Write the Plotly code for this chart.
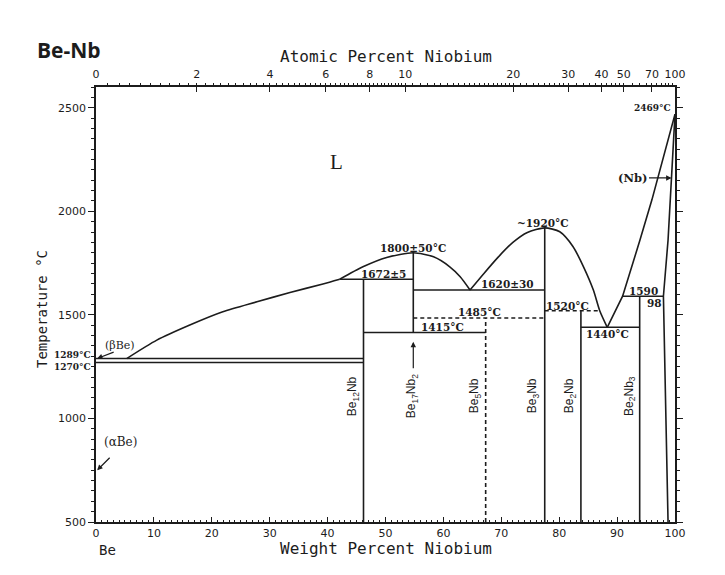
import plotly.graph_objects as go

# ---------------- data ----------------
M_BE, M_NB = 9.012, 92.906

# compound compositions (wt% Nb)
COMP_NAMES = ["Be<sub>12</sub>Nb", "Be<sub>17</sub>Nb<sub>2</sub>", "Be<sub>5</sub>Nb",
              "Be<sub>3</sub>Nb", "Be<sub>2</sub>Nb", "Be<sub>2</sub>Nb<sub>3</sub>"]
COMP_WT = [46.2, 54.8, 67.3, 77.5, 83.75, 93.9]
BE12NB, BE17NB2, BE5NB, BE3NB, BE2NB, BE2NB3 = COMP_WT

# liquidus branches
liq1_x = [5.3, 10.5, 16.2, 21.9, 27.8, 33.5, 39.2, 42.1]
liq1_t = [1289, 1378, 1451, 1515, 1563, 1608, 1649, 1672]
liq2_x = [42.1, 46.1, 50.2, 54.8, 58.3, 61.1, 62.9, 64.6]
liq2_t = [1672, 1732, 1777, 1800, 1780, 1732, 1684, 1620]
liq3_x = [64.6, 67.0, 69.5, 72.0, 74.5, 77.5, 80.1, 82.4, 84.2, 85.9, 87.0, 88.3]
liq3_t = [1620, 1700, 1780, 1850, 1898, 1920, 1901, 1829, 1732, 1620, 1520, 1440]
liq4_x = [88.3, 90.95, 93.95, 96.0, 100.0]
liq4_t = [1440, 1590, 1861, 2054, 2469]
# (Nb) solidus / solvus
sol_x = [98.8, 98.0, 98.8, 100.0]
sol_t = [500, 1590, 1861, 2469]

# invariant lines (solid)
solid_seg_x = [[0, BE12NB], [0, BE12NB], [BE12NB, BE12NB], [42.1, BE17NB2],
               [BE17NB2, BE17NB2], [BE12NB, BE5NB], [BE17NB2, BE3NB],
               [BE3NB, BE3NB], [BE2NB, BE2NB], [BE2NB, BE2NB3],
               [BE2NB3, BE2NB3], [90.95, 98.0]]
solid_seg_t = [[1289, 1289], [1270, 1270], [500, 1672], [1672, 1672],
               [1415, 1800], [1415, 1415], [1620, 1620],
               [500, 1920], [500, 1520], [1440, 1440],
               [500, 1590], [1590, 1590]]
# dashed lines
dash_seg_x = [[BE5NB, BE5NB], [BE17NB2, BE3NB], [BE3NB, 87.0]]
dash_seg_t = [[500, 1485], [1485, 1485], [1520, 1520]]

# axis ticks
wt_ticks = list(range(0, 101, 10))
at_ticks = [0, 2, 4, 6, 8, 10, 20, 30, 40, 50, 70, 100]
t_ticks = [500, 1000, 1500, 2000, 2500]


def at_to_wt(a):
    return 100.0 * a * M_NB / (a * M_NB + (100.0 - a) * M_BE)


at_minor = ([i * 0.2 for i in range(0, 51)] + [10 + i * 0.5 for i in range(1, 21)]
            + list(range(21, 31)) + list(range(32, 51, 2)) + list(range(55, 101, 5)))

INK = "#1c1c1c"
LW = 1.6


def join(seg_x, seg_t):
    xs, ts = [], []
    for sx, st in zip(seg_x, seg_t):
        xs += sx + [None]
        ts += st + [None]
    return xs, ts


fig = go.Figure()
for xs, ts in [(liq1_x, liq1_t), (liq2_x, liq2_t), (liq3_x, liq3_t)]:
    fig.add_trace(go.Scatter(x=xs, y=ts, mode="lines",
                             line=dict(color=INK, width=LW, shape="spline", smoothing=0.7),
                             hoverinfo="skip", showlegend=False))
fig.add_trace(go.Scatter(x=liq4_x, y=liq4_t, mode="lines",
                         line=dict(color=INK, width=LW), hoverinfo="skip", showlegend=False))
fig.add_trace(go.Scatter(x=sol_x, y=sol_t, mode="lines",
                         line=dict(color=INK, width=LW), hoverinfo="skip", showlegend=False))
sx, st = join(solid_seg_x, solid_seg_t)
fig.add_trace(go.Scatter(x=sx, y=st, mode="lines", line=dict(color=INK, width=LW),
                         hoverinfo="skip", showlegend=False))
dx, dt = join(dash_seg_x, dash_seg_t)
fig.add_trace(go.Scatter(x=dx, y=dt, mode="lines",
                         line=dict(color=INK, width=LW, dash="4px,3px"),
                         hoverinfo="skip", showlegend=False))
# invisible trace to anchor the top (atomic %) axis
fig.add_trace(go.Scatter(x=[0, 100], y=[500, 500], xaxis="x2", mode="lines",
                         line=dict(width=0), hoverinfo="skip", showlegend=False))

tickfont = dict(family="DejaVu Sans", size=11, color=INK)
fig.update_layout(
    width=725, height=575,
    margin=dict(l=96, r=50, t=87, b=53),
    paper_bgcolor="white", plot_bgcolor="white",
    xaxis=dict(range=[0, 100], tickmode="array", tickvals=wt_ticks,
               ticks="inside", ticklen=5, tickwidth=1, tickcolor=INK,
               minor=dict(dtick=1, ticks="inside", ticklen=2.5, tickcolor=INK),
               showline=True, linecolor=INK, linewidth=1.5, mirror=False,
               showgrid=False, zeroline=False, tickfont=tickfont, ticklabelstandoff=0),
    xaxis2=dict(range=[0, 100], overlaying="x", side="top", anchor="y",
                tickmode="array", tickvals=[at_to_wt(a) for a in at_ticks],
                ticktext=[str(a) for a in at_ticks],
                ticks="inside", ticklen=5, tickwidth=1, tickcolor=INK,
                minor=dict(tickvals=[at_to_wt(a) for a in at_minor], ticks="outside",
                           ticklen=2, tickcolor=INK),
                showline=True, linecolor=INK, linewidth=1.5,
                showgrid=False, zeroline=False, tickfont=tickfont, ticklabelstandoff=3),
    yaxis=dict(range=[500, 2600], tickmode="array", tickvals=t_ticks,
               ticks="outside", ticklen=6, tickwidth=1, tickcolor=INK,
               minor=dict(dtick=50, ticks="outside", ticklen=3, tickcolor=INK),
               showline=True, linecolor=INK, linewidth=1.5, mirror="ticks",
               showgrid=False, zeroline=False, tickfont=tickfont),
)

ann = []
SERIF = "DejaVu Serif"


def txt(x, y, s, size=10, family=SERIF, xanchor="center", yanchor="middle",
        angle=0, xref="x", yref="y", bold=False, xshift=0, yshift=0):
    ann.append(dict(x=x, y=y, xref=xref, yref=yref, text=(f"<b>{s}</b>" if bold else s),
                    showarrow=False, xanchor=xanchor, yanchor=yanchor, textangle=angle,
                    xshift=xshift, yshift=yshift,
                    font=dict(family=family, size=size, color=INK)))


# titles
txt(-0.105, 1.085, "Be-Nb", size=21, family="Open Sans", xanchor="left", xref="paper",
    yref="paper", bold=True)
txt(0.5, 1.069, "Atomic Percent Niobium", size=16, family="DejaVu Sans Mono",
    xref="paper", yref="paper")
txt(0.5, -0.062, "Weight Percent Niobium", size=16, family="DejaVu Sans Mono",
    xref="paper", yref="paper")
txt(-0.093, 0.49, "Temperature °C", size=14, family="DejaVu Sans Mono",
    xref="paper", yref="paper", angle=-90)
txt(2.0, -0.064, "Be", size=14, family="DejaVu Sans Mono", yref="paper")
txt(101.8, -0.064, "Nb", size=14, family="DejaVu Sans Mono", yref="paper")

# phase / temperature labels
txt(41.6, 2238, "L", size=21, family="Liberation Serif")
txt(0, 1289, "1289°C", size=9, xanchor="right", bold=True, xshift=-3, yshift=4)
txt(0, 1270, "1270°C", size=9, xanchor="right", bold=True, xshift=-3, yshift=-4)
txt(99.6, 2500, "2469°C", size=9, xanchor="right", bold=True)
txt(54.7, 1823, "1800±50°C", size=10.5, bold=True)
txt(49.6, 1697, "1672±5", size=10.5, bold=True)
txt(71.0, 1649, "1620±30", size=10.5, bold=True)
txt(66.3, 1514, "1485°C", size=10.5, bold=True)
txt(59.9, 1441, "1415°C", size=10.5, bold=True)
txt(77.2, 1944, "~1920°C", size=10.5, bold=True)
txt(81.5, 1543, "1520°C", size=10.5, bold=True)
txt(88.4, 1408, "1440°C", size=10.5, bold=True)
txt(94.5, 1615, "1590", size=10.5, bold=True)
txt(96.5, 1557, "98", size=10.5, bold=True)
txt(4.2, 1352, "(βBe)", size=11)
txt(4.3, 885, "(αBe)", size=12)
txt(92.6, 2161, "(Nb)", size=11.5, bold=True)

# compound labels
comp_lab_x = [44.4, 54.6, 65.5, 75.5, 81.9, 92.2]
for name, lx in zip(COMP_NAMES, comp_lab_x):
    txt(lx, 1108, name, size=12, family="Liberation Sans", angle=-90)


# arrows
def arrow(x, y, ax, ay):
    ann.append(dict(x=x, y=y, xref="x", yref="y", ax=ax, ay=ay, text="",
                    showarrow=True, arrowhead=2, arrowsize=0.9, arrowwidth=1.2,
                    arrowcolor=INK))


arrow(0.2, 1289, 18, -7)
arrow(0.2, 750, 14, -14)
arrow(99.4, 2161, -24, 0)
arrow(BE17NB2, 1370, 0, 28)

fig.update_layout(annotations=ann)
fig.write_html("out.html")
